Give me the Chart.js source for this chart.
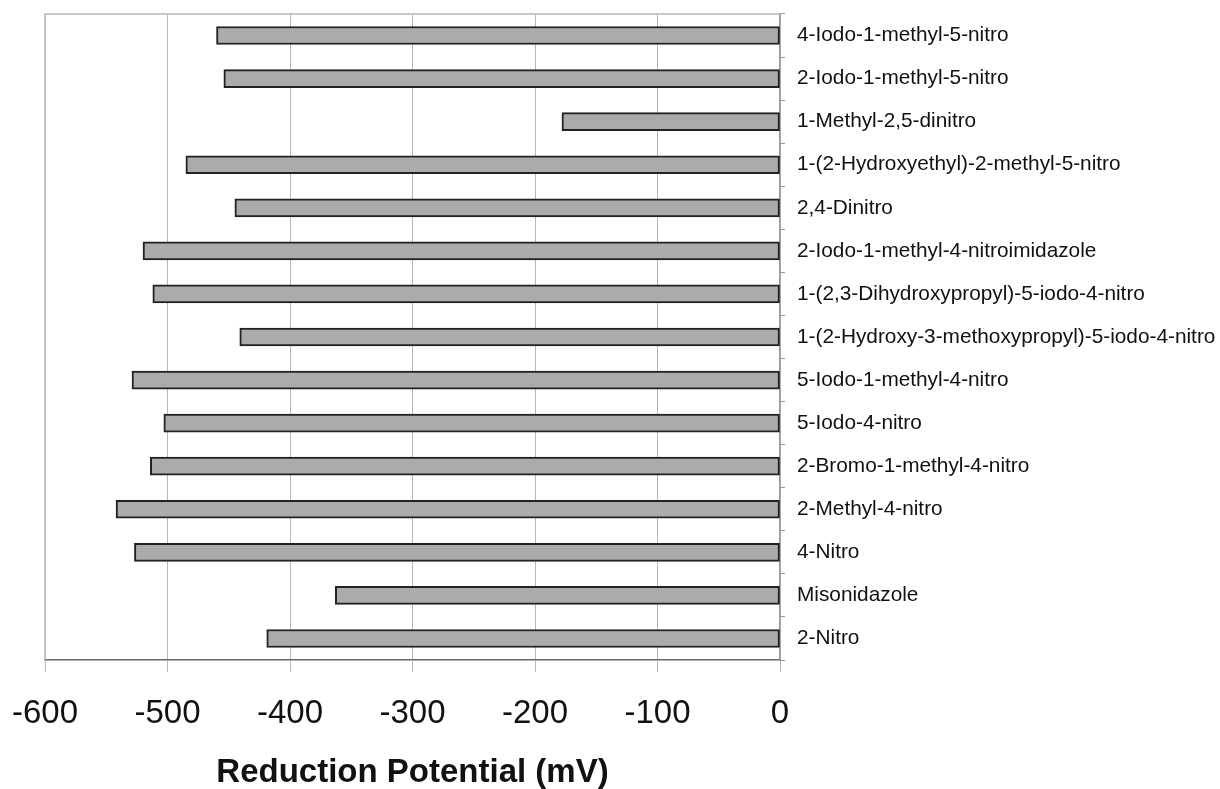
<!DOCTYPE html>
<html>
<head>
<meta charset="utf-8">
<script src="https://cdn.jsdelivr.net/npm/chart.js@4/dist/chart.umd.min.js"></script>
<style>
  html, body { margin: 0; padding: 0; background: #fff; }
  #wrap { width: 1220px; height: 789px; }
</style>
</head>
<body>
<div id="wrap"><canvas id="chart" width="1220" height="789"></canvas></div>
<script>
const compounds = [
  '4-Iodo-1-methyl-5-nitro',
  '2-Iodo-1-methyl-5-nitro',
  '1-Methyl-2,5-dinitro',
  '1-(2-Hydroxyethyl)-2-methyl-5-nitro',
  '2,4-Dinitro',
  '2-Iodo-1-methyl-4-nitroimidazole',
  '1-(2,3-Dihydroxypropyl)-5-iodo-4-nitro',
  '1-(2-Hydroxy-3-methoxypropyl)-5-iodo-4-nitro',
  '5-Iodo-1-methyl-4-nitro',
  '5-Iodo-4-nitro',
  '2-Bromo-1-methyl-4-nitro',
  '2-Methyl-4-nitro',
  '4-Nitro',
  'Misonidazole',
  '2-Nitro',
];
const potentials = [-460, -454, -178, -485, -445, -520, -512, -441, -529, -503, -514, -542, -527, -363, -419];
const xMin = -600;
const xMax = 0;
const xStep = 100;
const xTitle = 'Reduction Potential (mV)';

// grey frame on top and left of the plot area
const frame = {
  id: 'frame',
  afterDraw(chart) {
    const { ctx, chartArea: a } = chart;
    ctx.save();
    ctx.strokeStyle = '#b8b8b8';
    ctx.lineWidth = 1.5;
    ctx.beginPath();
    ctx.moveTo(a.left, a.bottom);
    ctx.lineTo(a.left, a.top);
    ctx.lineTo(a.right, a.top);
    ctx.stroke();
    ctx.restore();
  }
};

new Chart(document.getElementById('chart').getContext('2d'), {
  type: 'bar',
  data: {
    labels: compounds,
    datasets: [{
      data: potentials,
      backgroundColor: '#ababab',
      borderColor: '#222',
      borderWidth: 2,
      borderSkipped: false,
      barThickness: 18,
    }],
  },
  options: {
    indexAxis: 'y',
    responsive: false,
    animation: false,
    layout: { padding: { top: 14, left: 45, right: 0, bottom: 0 } },
    plugins: {
      legend: { display: false },
      tooltip: { enabled: false },
    },
    scales: {
      x: {
        min: xMin,
        max: xMax,
        ticks: {
          stepSize: xStep,
          color: '#111',
          padding: 22,
          font: { family: 'Liberation Sans, Arial, sans-serif', size: 33 },
        },
        grid: { color: '#b8b8b8', lineWidth: 1, tickLength: 12, tickColor: '#b8b8b8' },
        border: { color: '#666', width: 1.5 },
        title: {
          display: true,
          text: xTitle,
          color: '#111',
          padding: { top: 0, bottom: -4 },
          font: { family: 'Liberation Sans, Arial, sans-serif', size: 33, weight: 'bold' },
        },
        afterFit(scale) {
          scale.height = 129;
          scale.paddingLeft = 0;
          scale.paddingRight = 0;
        },
      },
      y: {
        position: 'right',
        ticks: {
          color: '#111',
          padding: 12,
          autoSkip: false,
          font: { family: 'Liberation Sans, Arial, sans-serif', size: 20.8 },
        },
        grid: { drawOnChartArea: false, tickLength: 5, tickColor: '#999', offset: true },
        border: { color: '#999', width: 1.5 },
        afterFit(scale) {
          scale.width = 440;
          scale.paddingTop = 0;
          scale.paddingBottom = 0;
        },
      },
    },
  },
  plugins: [frame],
});
</script>
</body>
</html>
